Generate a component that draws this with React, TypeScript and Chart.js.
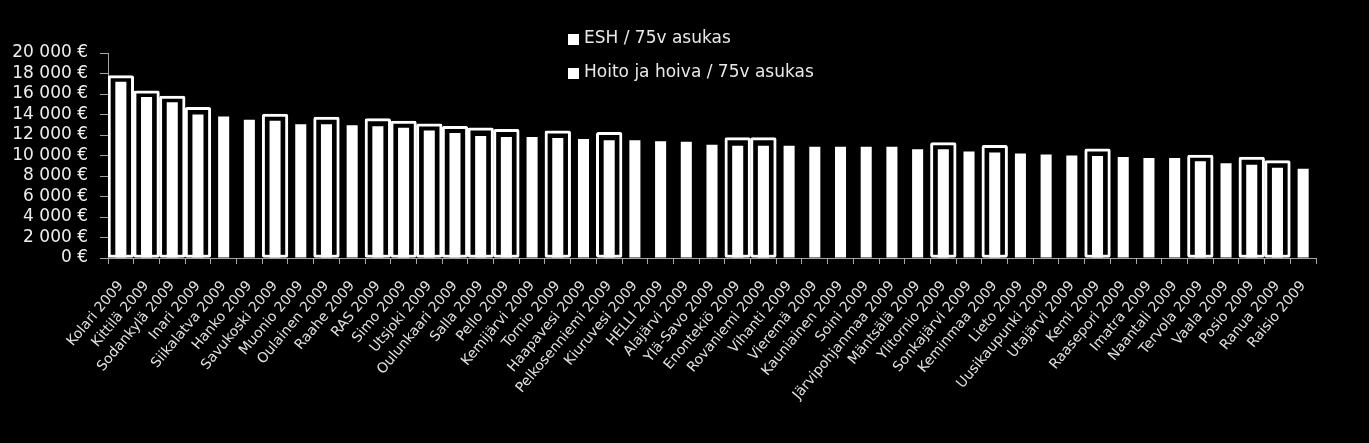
import { useEffect, useRef } from "react";
import { Chart, ChartConfiguration, Plugin, registerables } from "chart.js";

Chart.register(...registerables);

const municipalities = [
  "Kolari", "Kittilä", "Sodankylä", "Inari", "Siikalatva", "Hanko", "Savukoski",
  "Muonio", "Oulainen", "Raahe", "RAS", "Simo", "Utsjoki", "Oulunkaari", "Salla",
  "Pello", "Kemijärvi", "Tornio", "Haapavesi", "Pelkosenniemi", "Kiuruvesi", "HELLI",
  "Alajärvi", "Ylä-Savo", "Enontekiö", "Rovaniemi", "Vihanti", "Vieremä", "Kauniainen",
  "Soini", "Järvipohjanmaa", "Mäntsälä", "Ylitornio", "Sonkajärvi", "Keminmaa", "Lieto",
  "Uusikaupunki", "Utajärvi", "Kemi", "Raasepori", "Imatra", "Naantali", "Tervola",
  "Vaala", "Posio", "Ranua", "Raisio",
];
const labels = municipalities.map((m) => m + " 2009");

const eshValues = [
  17200, 15700, 15200, 14000, 13800, 13500, 13400, 13050, 13050, 12950, 12850, 12700,
  12450, 12200, 11900, 11800, 11800, 11700, 11600, 11500, 11500, 11400, 11350, 11050,
  10950, 10950, 10950, 10850, 10850, 10850, 10850, 10600, 10600, 10400, 10300, 10200,
  10100, 10000, 9950, 9850, 9750, 9750, 9450, 9250, 9100, 8800, 8700,
];

const hoitoValues = [
  17800, 16300, 15800, 14700, null, null, 14050, null, 13750, null, 13600, 13350,
  13100, 12850, 12700, 12550, null, 12400, null, 12250, null, null, null, null,
  11750, 11750, null, null, null, null, null, null, 11250, null, 11000, null,
  null, null, 10650, null, null, null, 10050, null, 9850, 9500, null,
];

const seriesNames = ["ESH / 75v asukas", "Hoito ja hoiva / 75v asukas"];

const fmtEuro = (v: number) =>
  String(v).replace(/\B(?=(\d{3})+(?!\d))/g, " ") + " €";

// legend drawn as two stacked rows like the original
const stackedLegend: Plugin = {
  id: "stackedLegend",
  afterDraw(chart) {
    const ctx = chart.ctx;
    ctx.save();
    ctx.font = "17px 'DejaVu Sans'";
    ctx.textBaseline = "middle";
    chart.data.datasets.forEach((ds, i) => {
      const y = 39 + i * 34;
      ctx.fillStyle = "#ffffff";
      ctx.fillRect(568, y - 5, 11, 11);
      ctx.fillStyle = "#e8e8e8";
      ctx.fillText(String(ds.label), 584, y);
    });
    ctx.restore();
  },
};

function App(): JSX.Element {
  const chartRef = useRef<HTMLCanvasElement | null>(null);
  const chartInstance = useRef<Chart | null>(null);

  useEffect(() => {
    if (!chartRef.current) return;
    const ctx = chartRef.current.getContext("2d");
    if (!ctx) return;

    const config: ChartConfiguration = {
      type: "bar",
      data: {
        labels,
        datasets: [
          {
            label: seriesNames[0],
            data: eshValues,
            backgroundColor: "#ffffff",
            borderWidth: 0,
            grouped: false,
            barPercentage: 0.43,
            categoryPercentage: 1,
          },
          {
            label: seriesNames[1],
            data: hoitoValues,
            backgroundColor: "#000000",
            borderColor: "#ffffff",
            borderWidth: 3,
            borderSkipped: false,
            borderRadius: 2,
            grouped: false,
            barPercentage: 1,
            categoryPercentage: 1,
          },
        ],
      },
      options: {
        animation: false,
        responsive: true,
        maintainAspectRatio: false,
        layout: { padding: { top: 53, right: 53, left: 0, bottom: 0 } },
        plugins: {
          legend: { display: false },
          tooltip: { enabled: false },
        },
        scales: {
          x: {
            afterFit: (scale) => {
              scale.height = 185;
            },
            grid: {
              offset: true,
              drawOnChartArea: false,
              tickLength: 6,
              color: "#a6a6a6",
            },
            border: { color: "#a6a6a6", width: 1 },
            ticks: {
              color: "#e0e0e0",
              font: { family: "'DejaVu Sans'", size: 14 },
              minRotation: 50,
              maxRotation: 50,
              autoSkip: false,
              padding: 14,
            },
          },
          y: {
            min: 0,
            max: 20000,
            afterFit: (scale) => {
              scale.width = 108;
            },
            grid: {
              drawOnChartArea: false,
              tickLength: 8,
              color: "#a6a6a6",
            },
            border: { color: "#a6a6a6", width: 1 },
            ticks: {
              stepSize: 2000,
              autoSkip: false,
              color: "#eeeeee",
              padding: 12,
              font: { family: "'DejaVu Sans'", size: 17 },
              callback: (v) => fmtEuro(Number(v)),
            },
          },
        },
      },
      plugins: [stackedLegend],
    };

    if (chartInstance.current) chartInstance.current.destroy();
    chartInstance.current = new Chart(ctx, config);

    return () => {
      if (chartInstance.current) {
        chartInstance.current.destroy();
        chartInstance.current = null;
      }
    };
  }, []);

  return (
    <div
      style={{
        position: "fixed",
        left: 0,
        top: 0,
        width: 1369,
        height: 443,
        background: "#000",
      }}
    >
      <canvas ref={chartRef}></canvas>
    </div>
  );
}

export default App;
